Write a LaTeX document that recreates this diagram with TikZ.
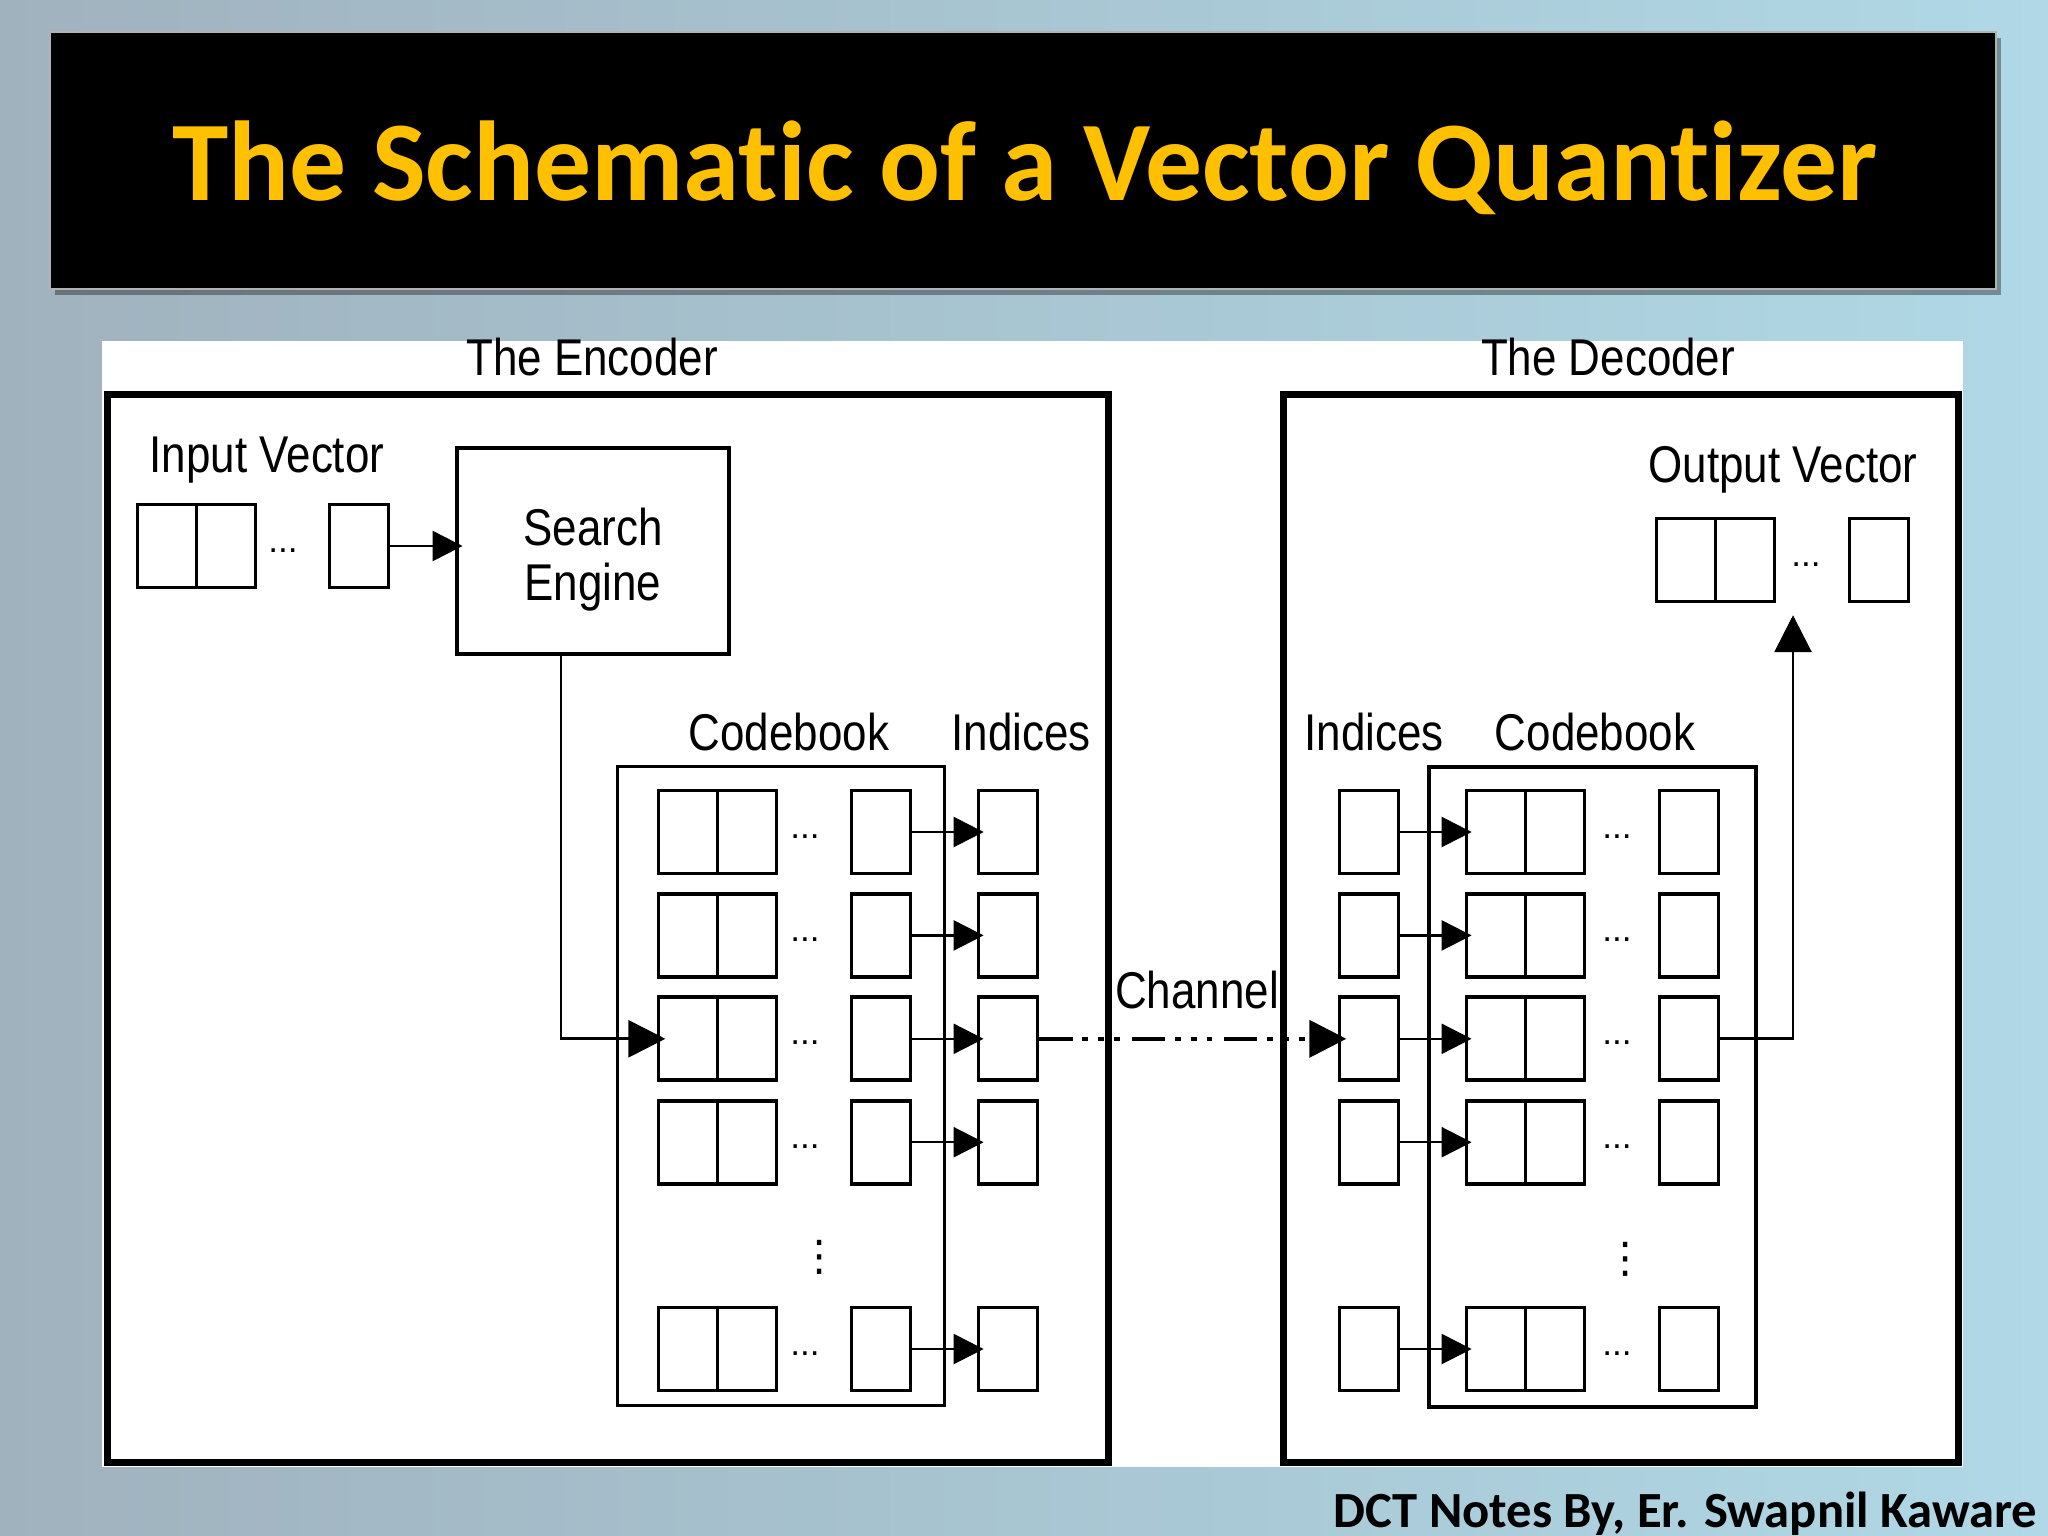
\documentclass[tikz,border=0pt]{standalone}
\usepackage{fontspec}
\setmainfont{Liberation Sans}
\newfontfamily\calibri[Ligatures=NoCommon]{Carlito}
\newfontfamily\dejavu{DejaVu Sans}
\usetikzlibrary{arrows.meta}

\definecolor{slidegray}{RGB}{160,178,190}
\definecolor{slidecyan}{RGB}{176,216,230}
\definecolor{titlegold}{RGB}{255,192,0}

\newcommand{\sq}[1]{\scalebox{0.85}[1]{#1}}

\tikzset{
  cell/.style={draw,line width=1.1pt,minimum width=0.59cm,minimum height=0.83cm,inner sep=0pt},
  panel/.style={draw,line width=2pt,inner sep=0pt},
  bookbox/.style={draw,line width=1pt,inner sep=0pt},
  lbl/.style={font=\fontsize{14.7}{17}\selectfont,inner sep=0pt,anchor=base},
  dotsl/.style={font=\fontsize{10}{12}\selectfont,inner sep=0pt,anchor=base},
  vdotsl/.style={font=\dejavu\fontsize{12}{14}\selectfont,inner sep=0pt},
  feed/.style={line width=0.7pt,-{Triangle[length=8.5pt,width=8.5pt]},shorten >=-2pt},
  bigfeed/.style={line width=0.8pt,-{Triangle[length=10.5pt,width=10.5pt]},shorten >=-2.5pt},
  chan/.style={line width=1.1pt,dash pattern=on 9.4pt off 2.8pt on 1.7pt off 2.8pt on 1.7pt off 2.8pt on 1.7pt off 3.4pt}
}

\begin{document}
\begin{tikzpicture}[x=0.01cm,y=-0.01cm]
% slide
\shade[left color=slidegray,right color=slidecyan] (0,0) rectangle (2048,1536);
\useasboundingbox (0,0) rectangle (2048,1536);
\fill[black,opacity=0.35] (55,38) rectangle (2001,295);
\draw[fill=black,draw=gray!60,line width=0.8pt] (50,32) rectangle (1996,289);
\node[font=\calibri\bfseries\fontsize{32.3}{38}\selectfont,text=titlegold,anchor=base] (title) at (1025,200) {The Schematic of a Vector Quantizer};
\fill[white] (102,341) rectangle (1963,1467);

% encoder
\node[panel,minimum width=10cm,minimum height=10.67cm] (enc) at (608,928.5) {};
\node[lbl] (encname) at (592,375) {\sq{The Encoder}};
\node[lbl] (inname) at (267,472) {\sq{Input Vector}};
\node[cell] (in1) at (167,546) {};
\node[cell] (in2) at (226,546) {};
\node[cell] (in3) at (359,546) {};
\node[dotsl] (indots) at (283,552) {...};
\node[draw,line width=1.1pt,minimum width=2.71cm,minimum height=2.06cm] (se) at (593,551) {};
\node[lbl] (setop) at (593,545) {\sq{Search}};
\node[lbl] (sebot) at (593,600) {\sq{Engine}};
\draw[feed] (in3) -- (in3 -| se.west);

\node[lbl] (ecbname) at (789,750) {\sq{Codebook}};
\node[lbl] (eixname) at (1021,750) {\sq{Indices}};
\node[bookbox,minimum width=3.27cm,minimum height=6.39cm] (ecb) at (781,1086) {};
\foreach \k/\y in {1/832,2/935.4,3/1038.8,4/1142.2,5/1349}{
  \node[cell] (ecbA\k) at (688,\y) {};
  \node[cell] (ecbB\k) at (747,\y) {};
  \node[dotsl] (ecbD\k) at (805,\y+6) {...};
  \node[cell] (ecbC\k) at (881,\y) {};
  \node[cell] (eix\k) at (1008,\y) {};
  \draw[feed] (ecbC\k) -- (eix\k);
}
\node[vdotsl] (evdots) at (820,1257) {⋮};
\coordinate (seOut) at (561,656);
\draw[bigfeed] (seOut) |- (ecbA3.west);

% decoder
\node[panel,minimum width=6.74cm,minimum height=10.67cm] (dec) at (1621,928.5) {};
\node[lbl] (decname) at (1608,375) {\sq{The Decoder}};
\node[lbl] (outname) at (1783,482) {\sq{Output Vector}};
\node[cell] (out1) at (1686,560) {};
\node[cell] (out2) at (1745,560) {};
\node[cell] (out3) at (1879,560) {};
\node[dotsl] (outdots) at (1806,566) {...};

\node[lbl] (dixname) at (1374,750) {\sq{Indices}};
\node[lbl] (dcbname) at (1595,750) {\sq{Codebook}};
\node[bookbox,minimum width=3.27cm,minimum height=6.4cm] (dcb) at (1592.5,1087) {};
\foreach \k/\y in {1/832,2/935.4,3/1038.8,4/1142.2,5/1349}{
  \node[cell] (dix\k) at (1369,\y) {};
  \node[cell] (dcbA\k) at (1496,\y) {};
  \node[cell] (dcbB\k) at (1555,\y) {};
  \node[dotsl] (dcbD\k) at (1617,\y+6) {...};
  \node[cell] (dcbC\k) at (1689,\y) {};
  \draw[feed] (dix\k) -- (dcbA\k);
}
\node[vdotsl] (dvdots) at (1626,1259) {⋮};
\coordinate (outTip) at (1793,624);
\draw[bigfeed] (dcbC3) -| (outTip);

% channel
\node[lbl] (channame) at (1197,1008) {\sq{Channel}};
\draw[bigfeed,chan] (eix3) -- (dix3);

\node[font=\calibri\bfseries\fontsize{14.4}{17}\selectfont,anchor=base east,inner sep=0pt] (credit) at (2038,1527) {DCT Notes By, Er. Swapnil Kaware};
\end{tikzpicture}
\end{document}
